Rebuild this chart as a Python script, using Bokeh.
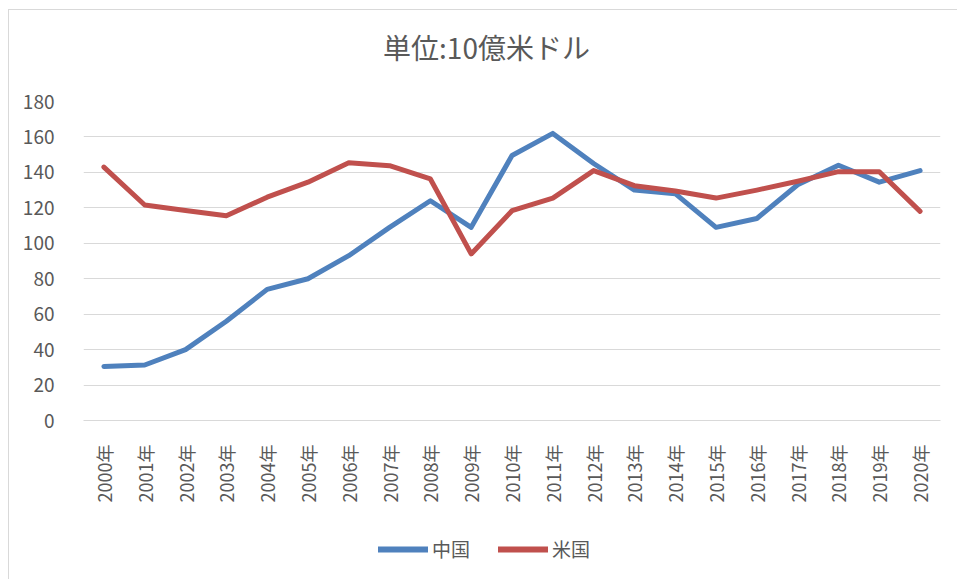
import math
from bokeh.plotting import figure
from bokeh.layouts import column
from bokeh.models import FactorRange, Range1d, Legend, LegendItem, FixedTicker, Label
from bokeh.embed import file_html
from bokeh.resources import INLINE

years = ["2000年", "2001年", "2002年", "2003年", "2004年", "2005年", "2006年",
         "2007年", "2008年", "2009年", "2010年", "2011年", "2012年", "2013年",
         "2014年", "2015年", "2016年", "2017年", "2018年", "2019年", "2020年"]
china = [30.5, 31.3, 40, 56, 74, 80, 93, 109, 124, 109, 149.5, 162, 145, 130,
         128, 109, 114, 133, 144, 134.5, 141]
usa = [143, 121.6, 118.5, 115.5, 126, 134.5, 145.5, 143.8, 136.3, 94, 118.4,
       125.5, 141, 132.5, 129.5, 125.5, 130, 135, 140.4, 140.4, 118]
y_ticks = [0, 20, 40, 60, 80, 100, 120, 140, 160, 180]
title_text = "単位:10億米ドル"
series_names = ["中国", "米国"]
series_colors = ["#4f81bd", "#c0504d"]

FONT = "Noto Sans CJK JP"
GRAY = "#595959"
GRID = "#d9d9d9"


def strip(height):
    f = figure(width=948, height=height, x_range=Range1d(0, 1),
               y_range=Range1d(0, 1), output_backend="svg",
               toolbar_location=None, x_axis_location=None,
               y_axis_location=None, min_border_left=0, min_border_right=0,
               min_border_top=0, min_border_bottom=0)
    f.outline_line_color = None
    f.grid.grid_line_color = None
    return f


# title strip
tf = strip(60)
tf.add_layout(Label(x=403, y=24, x_units="screen", y_units="screen",
                    text=title_text, text_align="center",
                    text_baseline="middle", text_font=FONT,
                    text_font_size="28px", text_color=GRAY))

# main chart
p = figure(width=948, height=450, x_range=FactorRange(factors=years),
           y_range=Range1d(0, 180), output_backend="svg", toolbar_location=None,
           min_border_left=74, min_border_right=17, min_border_top=31,
           min_border_bottom=100)

p.outline_line_color = None
p.xgrid.grid_line_color = None
p.ygrid.grid_line_color = GRID
p.ygrid.grid_line_width = 1

p.yaxis.ticker = FixedTicker(ticks=y_ticks)
p.yaxis.axis_line_color = None
p.yaxis.major_tick_line_color = None
p.yaxis.minor_tick_line_color = None
p.yaxis.major_label_standoff = 23
p.yaxis.major_label_text_font = FONT
p.yaxis.major_label_text_font_size = "19px"
p.yaxis.major_label_text_color = GRAY

p.xaxis.axis_line_color = GRID
p.xaxis.major_tick_line_color = None
p.xaxis.minor_tick_line_color = None
p.xaxis.major_label_orientation = math.pi / 2
p.xaxis.major_label_standoff = 18
p.xaxis.major_label_text_font = FONT
p.xaxis.major_label_text_font_size = "18px"
p.xaxis.major_label_text_color = GRAY

p.line(years, china, line_color=series_colors[0], line_width=5,
       line_cap="round", line_join="round")
p.line(years, usa, line_color=series_colors[1], line_width=5,
       line_cap="round", line_join="round")

# legend strip below the chart (sample renderers lie outside the visible range)
lf = strip(59)
d1 = lf.line(x=[5, 6], y=[5, 6], line_color=series_colors[0], line_width=6,
             line_cap="round")
d2 = lf.line(x=[5, 6], y=[5, 6], line_color=series_colors[1], line_width=6,
             line_cap="round")
legend = Legend(items=[LegendItem(label=series_names[0], renderers=[d1]),
                       LegendItem(label=series_names[1], renderers=[d2])],
                orientation="horizontal", location=(295, 17),
                border_line_color=None, background_fill_alpha=0,
                label_text_font=FONT, label_text_font_size="19px",
                label_text_color=GRAY, glyph_width=50, glyph_height=18,
                label_standoff=4, spacing=28, margin=0, padding=2)
lf.add_layout(legend, "center")

layout = column(tf, p, lf, spacing=0,
                styles={"margin-left": "8px", "margin-top": "9px",
                        "border-left": "1px solid #d9d9d9",
                        "border-top": "1px solid #d9d9d9"})

open("out.html", "w").write(file_html(layout, INLINE))
